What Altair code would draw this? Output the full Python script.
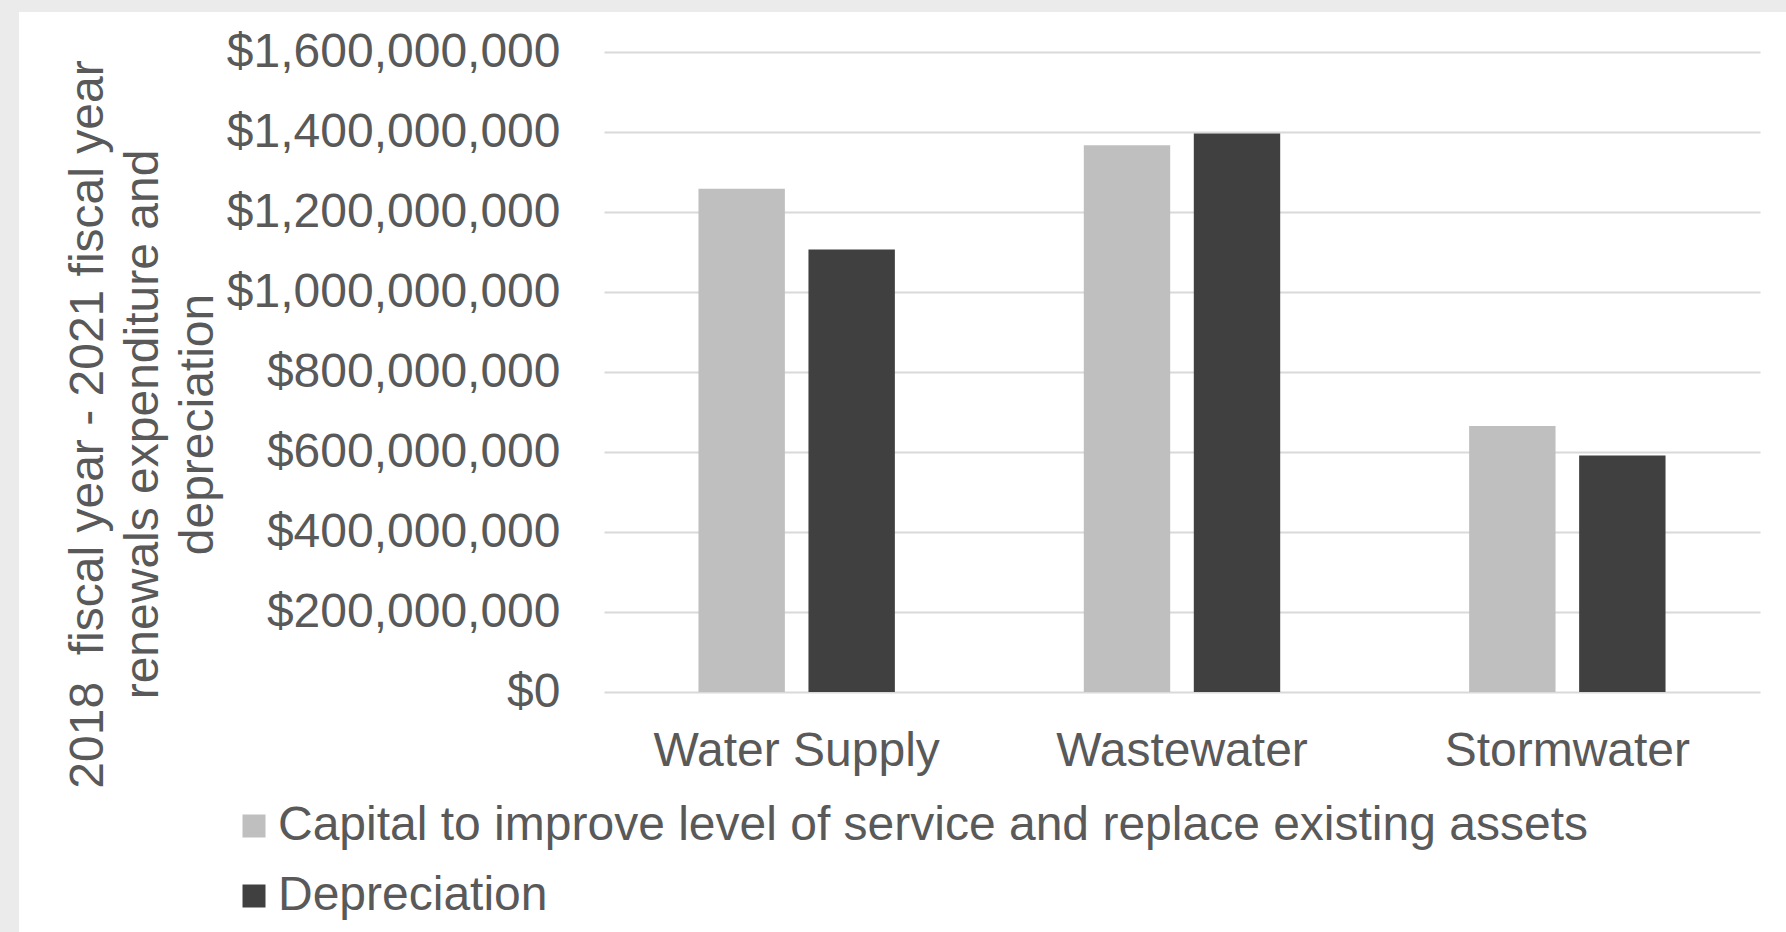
import altair as alt
import pandas as pd

# Renewals expenditure vs depreciation, FY2018-FY2021, by service
categories = ["Water Supply", "Wastewater", "Stormwater"]
series_names = [
    "Capital to improve level of service and replace existing assets",
    "Depreciation",
]
capital = [1_258_000_000, 1_367_000_000, 665_000_000]
depreciation = [1_106_000_000, 1_396_000_000, 591_000_000]
y_ticks = [0, 200_000_000, 400_000_000, 600_000_000, 800_000_000,
           1_000_000_000, 1_200_000_000, 1_400_000_000, 1_600_000_000]
series_colors = ["#BFBFBF", "#404040"]
y_title = [
    "2018\u00a0 fiscal year - 2021 fiscal year",
    "renewals expenditure and",
    "depreciation",
]

rows = []
for cat, cap, dep in zip(categories, capital, depreciation):
    rows.append({"category": cat, "series": series_names[0], "amount": cap})
    rows.append({"category": cat, "series": series_names[1], "amount": dep})
df = pd.DataFrame(rows)

FONT = "Liberation Sans"
TEXT = "#595959"
FRAME = "#EBEBEB"

bars = alt.Chart(df).mark_bar().encode(
    x=alt.X(
        "category:N",
        sort=categories,
        title=None,
        scale=alt.Scale(paddingInner=0, paddingOuter=0),
        axis=alt.Axis(
            labelAngle=0, ticks=False, domain=False, grid=False,
            labelPadding=35, labelFontSize=48, labelColor=TEXT, labelFont=FONT,
            labelLimit=1000,
        ),
    ),
    xOffset=alt.XOffset(
        "series:N",
        sort=series_names,
        scale=alt.Scale(paddingInner=0.2145, paddingOuter=0.8588),
    ),
    y=alt.Y(
        "amount:Q",
        title=y_title,
        scale=alt.Scale(domain=[0, 1_600_000_000], nice=False, zero=True),
        axis=alt.Axis(
            values=y_ticks, format="$,.0f",
            ticks=False, domain=False,
            grid=True, gridColor="#D9D9D9", gridWidth=2,
            labelPadding=44, labelFontSize=48, labelColor=TEXT, labelFont=FONT,
            labelLimit=1000,
            titleFont=FONT, titleFontSize=48, titleColor=TEXT,
            titleFontWeight="normal", titleAngle=270, titleAlign="center",
            titleBaseline="alphabetic", titleX=-502, titleY=372,
            titleLineHeight=55,
        ),
    ),
    color=alt.Color(
        "series:N",
        sort=series_names,
        scale=alt.Scale(domain=series_names, range=series_colors),
        legend=alt.Legend(
            title=None, orient="none", legendX=-374, legendY=750,
            direction="vertical", symbolType="square", symbolSize=529,
            symbolStrokeWidth=0, labelFontSize=48, labelFont=FONT,
            labelColor=TEXT, labelLimit=2000, labelOffset=0,
            rowPadding=22, padding=0,
        ),
    ),
)

# light grey page frame along the top and left edges
frame_top = alt.Chart(alt.Data(values=[{}])).mark_rect(color=FRAME).encode(
    x=alt.value(-604), x2=alt.value(1182), y=alt.value(-52), y2=alt.value(-40)
)
frame_left = alt.Chart(alt.Data(values=[{}])).mark_rect(color=FRAME).encode(
    x=alt.value(-604), x2=alt.value(-585), y=alt.value(-52), y2=alt.value(880)
)

chart = alt.layer(frame_top, frame_left, bars).properties(
    width=1156,
    height=640,
    autosize=alt.AutoSizeParams(type="none"),
    padding={"left": 604, "top": 52, "right": 26, "bottom": 240},
    background="white",
).configure_view(strokeWidth=0)

chart.save("out.html", embed_options={"renderer": "svg", "actions": False})
